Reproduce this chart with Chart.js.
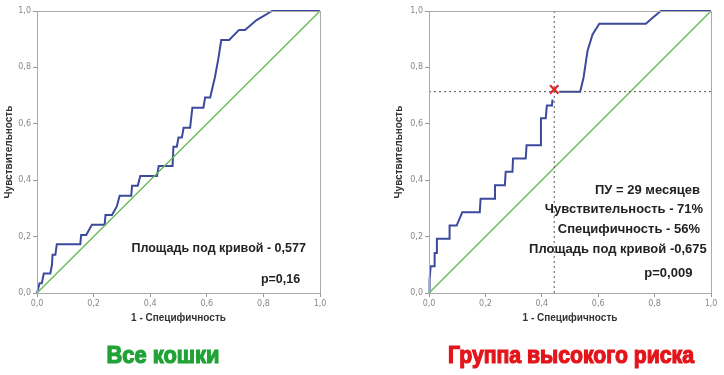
<!DOCTYPE html>
<html>
<head>
<meta charset="utf-8">
<script src="https://cdn.jsdelivr.net/npm/chart.js@4.4.1/dist/chart.umd.min.js"></script>
<style>
  body { margin: 0; background: #fff; }
  .wrap { position: relative; width: 724px; height: 375px; }
  .wrap canvas { position: absolute; top: 0; }
</style>
</head>
<body>
<div class="wrap">
  <canvas id="leftChart" width="362" height="375" style="left:0"></canvas>
  <canvas id="rightChart" width="362" height="375" style="left:362px"></canvas>
</div>
<script>
// ROC curve: all cats
const leftFpr = [0, 0.009, 0.017, 0.024, 0.047, 0.053, 0.055, 0.065, 0.07, 0.153, 0.156, 0.174, 0.194, 0.239, 0.242, 0.265, 0.282, 0.292, 0.333, 0.336, 0.356, 0.365, 0.424, 0.43, 0.479, 0.482, 0.494, 0.5, 0.512, 0.518, 0.541, 0.549, 0.588, 0.594, 0.612, 0.629, 0.641, 0.651, 0.679, 0.714, 0.735, 0.776, 0.8, 0.83, 1.0];
const leftTpr = [0, 0.035, 0.035, 0.069, 0.069, 0.1, 0.136, 0.136, 0.173, 0.173, 0.206, 0.206, 0.242, 0.242, 0.277, 0.277, 0.307, 0.345, 0.345, 0.38, 0.38, 0.415, 0.415, 0.45, 0.45, 0.519, 0.519, 0.551, 0.551, 0.586, 0.586, 0.657, 0.657, 0.693, 0.693, 0.767, 0.832, 0.897, 0.897, 0.933, 0.933, 0.968, 0.982, 1.0, 1.0];

// ROC curve: high risk group (null = gap under the cut-off mark)
const rightFpr = [0, 0.002, 0.006, 0.018, 0.02, 0.026, 0.028, 0.071, 0.073, 0.098, 0.118, 0.18, 0.183, 0.231, 0.234, 0.269, 0.272, 0.296, 0.298, 0.343, 0.346, 0.394, 0.397, 0.414, 0.418, 0.436, 0.438, 0.45, 0.462, 0.536, 0.548, 0.562, 0.58, 0.604, 0.769, 0.793, 0.822, 1.0];
const rightTpr = [0, 0.047, 0.095, 0.095, 0.142, 0.142, 0.192, 0.192, 0.239, 0.239, 0.286, 0.286, 0.334, 0.334, 0.382, 0.382, 0.43, 0.43, 0.477, 0.477, 0.524, 0.524, 0.62, 0.62, 0.665, 0.665, 0.686, null, 0.714, 0.714, 0.763, 0.858, 0.917, 0.955, 0.955, 0.976, 1.0, 1.0];

// reference (chance) line
const chanceFpr = [0, 1];
const chanceTpr = [0, 1];

const cutoffFpr = 0.444;
const cutoffTpr = 0.714;
const markFpr = 0.444;
const markTpr = 0.722;

const tickValues = [0, 0.2, 0.4, 0.6, 0.8, 1.0];
const tickLabels = ['0,0', '0,2', '0,4', '0,6', '0,8', '1,0'];

const leftNotes = ['Площадь под кривой - 0,577', 'p=0,16'];
const rightNotes = ['ПУ = 29 месяцев', 'Чувствительность - 71%', 'Специфичность - 56%', 'Площадь под кривой -0,675', 'p=0,009'];

const toPoints = (xs, ys) => xs.map((x, i) => ({ x: x, y: ys[i] }));

const tickFont = { family: 'DejaVu Sans', size: 8 };
const titleFont = { family: 'Liberation Sans', size: 10, weight: 'bold' };

function axis(isX, size) {
    return {
        type: 'linear',
        min: 0,
        max: 1,
        afterBuildTicks: (scale) => { scale.ticks = tickValues.map(v => ({ value: v })); },
        afterFit: (scale) => { if (isX) scale.height = size; else scale.width = size; },
        grid: { display: true, drawOnChartArea: false, drawTicks: true, tickLength: 4, color: '#999' },
        border: { display: false },
        ticks: {
            font: tickFont,
            color: '#888',
            padding: 2,
            maxRotation: 0,
            autoSkip: false,
            callback: (v) => tickLabels[tickValues.indexOf(Math.round(v * 10) / 10)]
        },
        title: {
            display: true,
            text: isX ? '1 - Специфичность' : 'Чувствительность',
            font: titleFont,
            color: '#333',
            padding: 0
        }
    };
}

// frame, notes and caption under each chart
const extras = {
    id: 'extras',
    afterDatasetsDraw(chart, args, opts) {
        const { ctx, chartArea: a, scales } = chart;
        ctx.save();
        ctx.strokeStyle = '#aaa';
        ctx.lineWidth = 1;
        ctx.strokeRect(a.left + 0.5, a.top + 0.5, a.right - a.left, a.bottom - a.top);

        ctx.fillStyle = '#222';
        ctx.font = 'bold ' + opts.noteSize + 'px "Liberation Sans", Arial, sans-serif';
        ctx.textAlign = 'right';
        ctx.textBaseline = 'middle';
        opts.notes.forEach((t, i) => {
            ctx.fillText(t, scales.x.getPixelForValue(opts.noteX[i]), scales.y.getPixelForValue(opts.noteY[i]));
        });

        // condensed heavy caption: squeeze a bold face to the wanted width
        ctx.fillStyle = opts.captionColor;
        ctx.strokeStyle = opts.captionColor;
        ctx.lineWidth = 1.2;
        ctx.font = 'bold 23px "Liberation Sans", Arial, sans-serif';
        ctx.textAlign = 'center';
        ctx.textBaseline = 'alphabetic';
        const w = ctx.measureText(opts.caption).width;
        ctx.translate(opts.captionX, 363);
        ctx.scale(opts.captionWidth / w, 1);
        ctx.fillText(opts.caption, 0, 0);
        ctx.strokeText(opts.caption, 0, 0);
        ctx.restore();
    }
};

function makeChart(id, datasets, padLeft, padRight, yWidth, notes) {
    return new Chart(document.getElementById(id), {
        type: 'scatter',
        data: { datasets: datasets },
        options: {
            responsive: false,
            animation: false,
            events: [],
            layout: { padding: { left: padLeft, right: padRight, top: 11, bottom: 51 } },
            scales: { x: axis(true, 31), y: axis(false, yWidth) },
            plugins: { legend: { display: false }, tooltip: { enabled: false }, extras: notes }
        },
        plugins: [extras]
    });
}

function line(xs, ys, color, width, dash) {
    return {
        data: toPoints(xs, ys),
        showLine: true,
        spanGaps: false,
        clip: 4,
        borderColor: color,
        backgroundColor: color,
        borderWidth: width,
        borderDash: dash || [],
        pointRadius: 0,
        pointHoverRadius: 0
    };
}

makeChart('leftChart', [
    line(chanceFpr, chanceTpr, '#66bb55', 1.4),
    line(leftFpr, leftTpr, '#3c4a9c', 2)
], 3, 42, 34, {
    notes: leftNotes,
    noteX: [0.95, 0.93],
    noteY: [0.156, 0.046],
    noteSize: 12.5,
    caption: 'Все кошки',
    captionColor: '#21a236',
    captionX: 163,
    captionWidth: 113
});

makeChart('rightChart', [
    line([cutoffFpr, cutoffFpr], [0, 1], '#555', 1, [2, 3]),
    line([0, 1], [cutoffTpr, cutoffTpr], '#555', 1, [2, 3]),
    line(chanceFpr, chanceTpr, '#66bb55', 1.4),
    line(rightFpr, rightTpr, '#3c4a9c', 2),
    {
        data: toPoints([markFpr], [markTpr]),
        pointStyle: 'crossRot',
        pointRadius: 6,
        pointBorderWidth: 2.2,
        pointBorderColor: '#e3262b'
    }
], 31, 13, 36, {
    notes: rightNotes,
    noteX: [0.961, 0.972, 0.961, 0.985, 0.934],
    noteY: [0.365, 0.298, 0.227, 0.156, 0.068],
    noteSize: 13,
    caption: 'Группа высокого риска',
    captionColor: '#e3151b',
    captionX: 209,
    captionWidth: 246
});
</script>
</body>
</html>
